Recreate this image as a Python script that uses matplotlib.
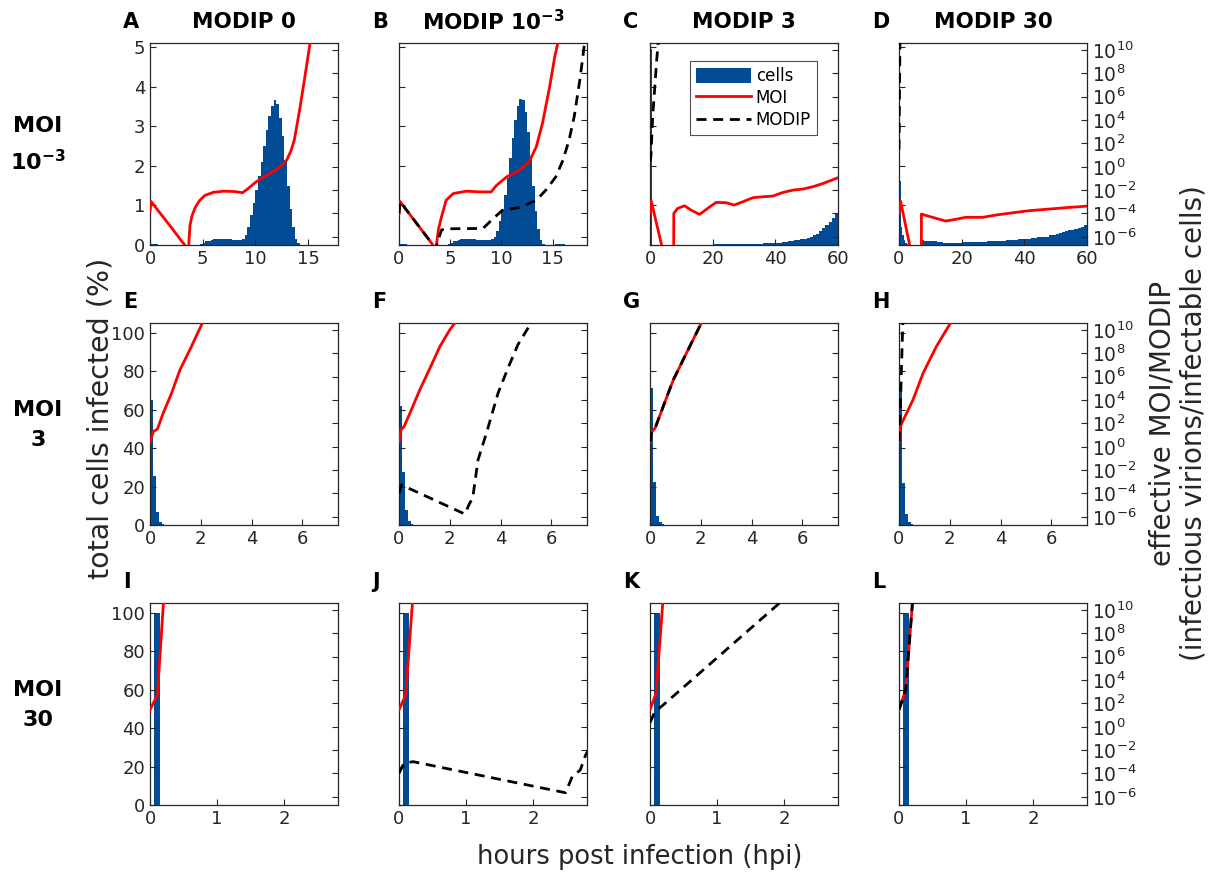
import matplotlib.pyplot as plt
import numpy as np
from matplotlib.lines import Line2D
from matplotlib.patches import Patch

BLUE = '#024c96'
GREY = '#262626'
W, H = 1211, 872

# histogram of newly infected cells (% of total), per time bin
edges_A = np.arange(0, 15.01, 0.25)
cells_A = [0.03, 0.03, 0.02, 0.01, 0, 0, 0, 0, 0, 0, 0, 0, 0, 0, 0, 0,
           0, 0, 0.01, 0.03, 0.06, 0.09, 0.11, 0.13, 0.14, 0.15, 0.15, 0.15,
           0.15, 0.14, 0.14, 0.13, 0.13, 0.13, 0.13, 0.15, 0.25, 0.45, 0.75, 1.05,
           1.40, 1.75, 2.10, 2.50, 2.90, 3.25, 3.50, 3.65, 3.55, 3.20, 2.75, 2.15,
           1.50, 0.90, 0.45, 0.15, 0.04, 0.01, 0, 0]
edges_B = np.arange(0, 16.51, 0.25)
cells_B = [0.03, 0.03, 0.02, 0.01, 0, 0, 0, 0, 0, 0, 0, 0, 0, 0, 0, 0,
           0, 0, 0.01, 0.03, 0.06, 0.09, 0.11, 0.13, 0.14, 0.14, 0.15, 0.15,
           0.14, 0.14, 0.13, 0.13, 0.12, 0.12, 0.12, 0.13, 0.15, 0.20, 0.35, 0.60,
           0.90, 1.25, 1.70, 2.20, 2.70, 3.15, 3.50, 3.68, 3.65, 3.35, 2.85, 2.20,
           1.50, 0.85, 0.40, 0.12, 0.03, 0.01, 0, 0, 0.01, 0.02, 0.03, 0.03, 0.02, 0.01]
edges_C = np.r_[0, 0.5, np.arange(2, 50, 2), np.arange(50, 61, 1)]
cells_C = [4.95, 0.01, 0, 0, 0.005, 0.008, 0.01, 0.01, 0.01, 0.01, 0.012, 0.015,
           0.015, 0.015, 0.018, 0.02, 0.025, 0.03, 0.035, 0.04, 0.05, 0.06, 0.08,
           0.10, 0.12, 0.15, 0.17, 0.20, 0.24, 0.29, 0.35, 0.42, 0.50, 0.59, 0.69, 0.80]
edges_D = np.r_[0, 0.5, 1, 1.5, 2, 2.5, 3, 7, np.arange(8, 50, 2), np.arange(50, 61, 1)]
cells_D = [1.62, 0.45, 0.25, 0.12, 0.06, 0.02, 0, 0.13, 0.11, 0.09, 0.07, 0.055,
           0.055, 0.06, 0.065, 0.07, 0.075, 0.08, 0.09, 0.10, 0.11, 0.12, 0.13,
           0.14, 0.15, 0.17, 0.19, 0.21, 0.26, 0.29, 0.31, 0.33, 0.35, 0.37, 0.39,
           0.41, 0.43, 0.46, 0.50]
edges_row2 = [0.02, 0.13, 0.24, 0.35, 0.46, 0.57, 0.68]
cells_E = [65.2, 25.7, 6.6, 1.7, 0.5, 0.2]
cells_F = [61.7, 27.3, 7.8, 2.3, 0.6, 0.2]
cells_G = [71.3, 22.6, 4.7, 1.4, 0.4, 0.1]
cells_H = [70.4, 21.7, 5.7, 1.6, 0.5, 0.1]
edges_row3 = [0.06, 0.15]
cells_I = [100]
cells_J = [100]
cells_K = [100]
cells_L = [100]

# effective MOI / MODIP, stored as log10 values (-12 = below the axis)
moi_A_t = [0, 0.1, 1, 2, 3, 3.3, 3.45, 3.6, 3.7, 3.8, 4.0, 4.3, 4.7, 5.2, 6, 7, 8,
           8.8, 9.3, 10, 11, 12, 12.6, 13.0, 13.4, 13.7, 14.2, 14.7, 15.2, 15.4]
moi_A = [-3.82, -2.97, -4.02, -5.17, -6.36, -6.7, -12, -12, -6.36, -5.0, -4.16, -3.48,
         -2.9, -2.46, -2.19, -2.09, -2.12, -2.22, -1.88, -1.34, -0.76, -0.26, 0.19,
         0.6, 1.4, 2.29, 4.83, 7.68, 10.6, 11.5]
moi_B_t = [0, 0.1, 1, 2, 3, 3.3, 3.45, 3.6, 3.7, 3.85, 4.15, 4.6, 5.3, 6.6, 7.9, 9.0,
           9.5, 10.5, 11.8, 12.7, 13.4, 14.0, 14.7, 15.2, 15.5, 15.6]
moi_B = [-3.99, -2.97, -4.02, -5.17, -6.33, -6.7, -12, -12, -6.36, -5.34, -4.29, -2.87,
         -2.29, -2.09, -2.15, -2.15, -1.61, -0.87, -0.29, 0.42, 1.71, 3.71, 6.83, 9.41,
         10.6, 11.0]
modip_B_t = [0, 0.1, 1, 2, 3, 3.3, 3.45, 3.6, 3.66, 4.15, 4.6, 5.1, 8.2, 9.2, 10.1,
             11.8, 13.4, 14.35, 15.3, 16.0, 16.6, 17.1, 17.6, 17.9, 18.1, 18.2]
modip_B = [-3.99, -2.97, -4.02, -5.17, -6.33, -6.7, -12, -12, -6.7, -5.41, -5.31, -5.31,
           -5.28, -4.43, -3.72, -3.48, -2.87, -1.98, -0.87, 0.56, 2.29, 4.29, 7.14, 9.11,
           10.53, 11.0]
moi_C_t = [0, 0.4, 3.7, 4.0, 7.5, 7.6, 8.8, 11, 13.1, 15.8, 18.4, 21.1, 24.3, 26.9,
           29.6, 32.8, 36, 39.2, 42.4, 45.6, 48.8, 52, 55.2, 60]
moi_C = [-4.0, -2.94, -6.7, -12, -12, -3.99, -3.57, -3.34, -3.71, -4.08, -3.57, -3.05,
         -3.08, -3.28, -3.0, -2.65, -2.57, -2.51, -2.2, -2.0, -1.91, -1.71, -1.43, -0.94]
modip_C_t = [0, 0.3, 0.85, 1.6, 2.1, 2.6, 2.8]
modip_C = [0.48, 0.9, 4.3, 7.1, 9.0, 10.6, 11.2]
moi_D_t = [0, 0.5, 3.4, 3.7, 7.1, 7.15, 9, 14.9, 18.1, 21.3, 26.7, 31, 36.3, 41.6,
           48, 54.4, 60]
moi_D = [-4.0, -2.95, -6.7, -12, -12, -4.05, -4.2, -4.65, -4.5, -4.33, -4.33, -4.13,
         -3.94, -3.76, -3.62, -3.48, -3.37]
modip_D_t = [0, 0.15, 0.3, 0.35]
modip_D = [1.48, 6.0, 10.6, 11.5]

moi_E_t = [0, 0.13, 0.29, 0.52, 0.85, 1.18, 1.57, 2.03, 2.1]
moi_E = [0.44, 1.30, 1.51, 2.88, 4.60, 6.59, 8.31, 10.45, 11.0]
moi_F_t = [0, 0.08, 0.2, 0.43, 0.82, 1.22, 1.61, 2.0, 2.2, 2.3]
moi_F = [0.44, 1.45, 1.73, 2.88, 4.88, 6.74, 8.59, 10.02, 10.6, 11.0]
modip_F_t = [0, 0.1, 2.59, 2.78, 2.9, 3.11, 3.44, 3.9, 4.29, 4.68, 5.2, 5.3]
modip_F = [-3.98, -3.27, -5.76, -4.84, -4.41, -1.13, 1.16, 4.6, 6.74, 8.74, 10.6, 11.0]
moi_G_t = [0, 0.07, 0.2, 0.52, 0.92, 1.37, 1.76, 2.0, 2.1]
moi_G = [0.44, 1.30, 1.59, 3.45, 5.74, 7.74, 9.45, 10.5, 11.0]
modip_G_t = [0, 0.07, 0.2, 0.52, 0.92, 1.37, 1.76, 2.0, 2.1]
modip_G = [0.44, 1.30, 1.59, 3.45, 5.74, 7.74, 9.45, 10.5, 11.0]
moi_H_t = [0, 0.03, 0.08, 0.55, 0.95, 1.47, 2.0, 2.1]
moi_H = [0.44, 1.45, 1.88, 4.02, 6.31, 8.59, 10.5, 11.0]
modip_H_t = [0, 0.05, 0.1, 0.15, 0.17]
modip_H = [0.44, 3.0, 7.0, 10.6, 11.2]

moi_I_t = [0, 0.11, 0.2, 0.21]
moi_I = [1.45, 2.73, 10.6, 11.5]
moi_J_t = [0, 0.1, 0.2, 0.21]
moi_J = [1.45, 2.73, 10.6, 11.5]
modip_J_t = [0, 0.075, 0.21, 2.48, 2.58, 2.7, 2.78, 2.82]
modip_J = [-3.98, -3.12, -2.99, -5.65, -4.27, -3.7, -2.41, -2.0]
moi_K_t = [0, 0.09, 0.19, 0.2]
moi_K = [1.45, 2.88, 10.6, 11.5]
modip_K_t = [0, 0.075, 0.2, 1.93, 2.0]
modip_K = [0.36, 1.3, 1.88, 10.6, 11.0]
moi_L_t = [0, 0.1, 0.2, 0.21]
moi_L = [1.45, 3.16, 10.6, 11.5]
modip_L_t = [0, 0.1, 0.2, 0.21]
modip_L = [1.45, 3.16, 10.6, 11.5]

col_titles = ['MODIP 0', r'MODIP 10$^{\mathbf{-3}}$', 'MODIP 3', 'MODIP 30']
row_titles = ['MOI\n' + r'10$^{\mathbf{-3}}$', 'MOI\n3', 'MOI\n30']
letters = 'ABCDEFGHIJKL'
xlims = [[17.85, 18.35, 60, 60], [7.4] * 4, [2.8] * 4]
xticks_row = [[[0, 5, 10, 15], [0, 5, 10, 15], [0, 20, 40, 60], [0, 20, 40, 60]],
              [[0, 2, 4, 6]] * 4, [[0, 1, 2]] * 4]
ylim_left = [5.1, 105, 105]
yticks_left = [[0, 1, 2, 3, 4, 5], [0, 20, 40, 60, 80, 100], [0, 20, 40, 60, 80, 100]]

panels = [
    [(edges_A, cells_A, moi_A_t, moi_A, None, None),
     (edges_B, cells_B, moi_B_t, moi_B, modip_B_t, modip_B),
     (edges_C, cells_C, moi_C_t, moi_C, modip_C_t, modip_C),
     (edges_D, cells_D, moi_D_t, moi_D, modip_D_t, modip_D)],
    [(edges_row2, cells_E, moi_E_t, moi_E, None, None),
     (edges_row2, cells_F, moi_F_t, moi_F, modip_F_t, modip_F),
     (edges_row2, cells_G, moi_G_t, moi_G, modip_G_t, modip_G),
     (edges_row2, cells_H, moi_H_t, moi_H, modip_H_t, modip_H)],
    [(edges_row3, cells_I, moi_I_t, moi_I, None, None),
     (edges_row3, cells_J, moi_J_t, moi_J, modip_J_t, modip_J),
     (edges_row3, cells_K, moi_K_t, moi_K, modip_K_t, modip_K),
     (edges_row3, cells_L, moi_L_t, moi_L, modip_L_t, modip_L)],
]

col_left = [150, 399, 650, 899]
row_top = [43, 323, 603]
ax_w, ax_h = 188, 202


def px_rect(x, y, w, h):
    return [x / W, 1 - (y + h) / H, w / W, h / H]


plt.rcParams['font.family'] = 'DejaVu Sans'
fig = plt.figure(figsize=(W / 100, H / 100), dpi=100)

dash = (3.6, 2.4)
for r in range(3):
    for c in range(4):
        edges, cells, mt, mv, dt, dv = panels[r][c]
        ax = fig.add_axes(px_rect(col_left[c], row_top[r], ax_w, ax_h))
        ax.stairs(cells, edges, fill=True, color=BLUE, lw=0)
        ax.set_xlim(0, xlims[r][c])
        ax.set_ylim(0, ylim_left[r])
        ax.set_xticks(xticks_row[r][c])
        ax.set_yticks(yticks_left[r])
        ax.tick_params(direction='in', length=4, width=0.8, colors=GREY,
                       labelsize=13, top=False, right=False)
        if c > 0:
            ax.set_yticklabels([])
        for sp in ax.spines.values():
            sp.set_color(GREY)
            sp.set_linewidth(0.9)

        ax2 = ax.twinx()
        ax2.set_yscale('log')
        ax2.set_ylim(10 ** -6.7, 10 ** 10.6)
        ax2.plot(mt, 10 ** np.array(mv), color='red', lw=2)
        if dt is not None:
            ax2.plot(dt, 10 ** np.array(dv), color='black', lw=2, dashes=dash)
        ax2.set_yticks([10.0 ** k for k in range(-6, 11, 2)])
        ax2.yaxis.set_minor_locator(plt.NullLocator())
        ax2.tick_params(direction='in', length=4, width=0.8, colors=GREY,
                        labelsize=13.5, labelright=(c == 3))
        for sp in ax2.spines.values():
            sp.set_visible(False)

        fig.text((col_left[c] - 27) / W, 1 - (row_top[r] - 21) / H, letters[r * 4 + c],
                 fontsize=15, fontweight='bold', ha='left', va='center')
        if r == 0:
            fig.text((col_left[c] + ax_w / 2) / W, 1 - 22 / H, col_titles[c],
                     fontsize=15.5, fontweight='bold', ha='center', va='center')
        if r == 0 and c == 2:
            handles = [Patch(color=BLUE, lw=0),
                       Line2D([], [], color='red', lw=2),
                       Line2D([], [], color='black', lw=2, dashes=dash)]
            leg = ax2.legend(handles, ['cells', 'MOI', 'MODIP'], loc='upper left',
                             bbox_to_anchor=(690 / W, 1 - 61 / H),
                             bbox_transform=fig.transFigure, fontsize=12,
                             frameon=True, fancybox=False, handlelength=3.3,
                             handleheight=1.0, borderpad=0.35, labelspacing=0.25,
                             handletextpad=0.3, borderaxespad=0)
            leg.get_frame().set_edgecolor(GREY)
            leg.get_frame().set_linewidth(0.8)

    fig.text(38 / W, 1 - (row_top[r] + 102) / H, row_titles[r], fontsize=16,
             fontweight='bold', ha='center', va='center', linespacing=1.6)

fig.text(100 / W, 1 - 418 / H, 'total cells infected (%)', rotation=90,
         fontsize=20.5, color=GREY, ha='center', va='center')
fig.text(1178 / W, 1 - 423 / H,
         'effective MOI/MODIP\n(infectious virions/infectable cells)', rotation=90,
         fontsize=20, color=GREY, ha='center', va='center', linespacing=1.15)
fig.text(640 / W, 1 - 857 / H, 'hours post infection (hpi)', fontsize=18.5,
         color=GREY, ha='center', va='center')

fig.savefig('out.png', dpi=100)
